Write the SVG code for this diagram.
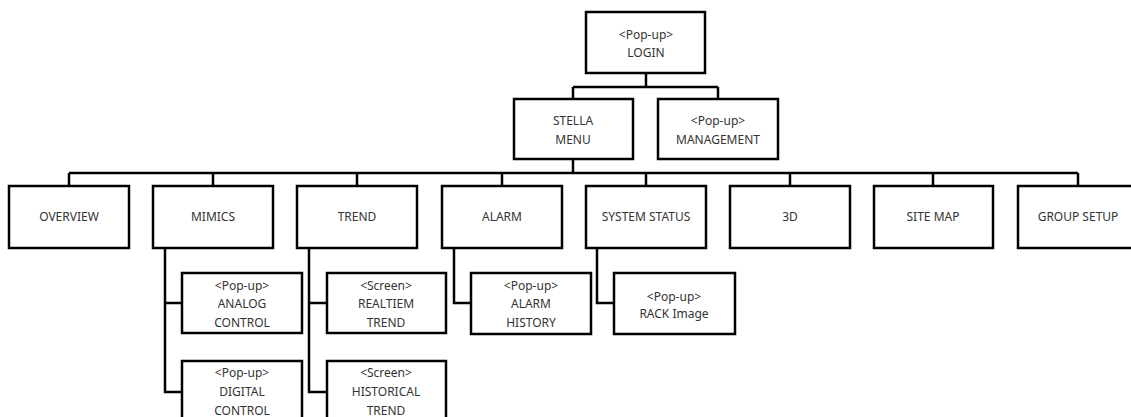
<svg xmlns="http://www.w3.org/2000/svg" width="1131" height="417" viewBox="0 0 1131 417">
<style>
.box{fill:#fff;stroke:#000;stroke-width:2.5}
.lbl{font-family:"Noto Sans","Open Sans",sans-serif;font-size:12px;fill:#333;text-anchor:middle}
.conn{fill:none;stroke:#000;stroke-width:2.5}
</style>
<rect width="1131" height="417" fill="#fff"/>
<g id="connectors" class="conn">
<path d="M646 73V87M573 87H718M573 87V99M718 87V99"/>
<path d="M573 159V173M69 173H1078M69 173V186M213 173V186M357 173V186M502 173V186M646 173V186M790 173V186M933 173V186M1078 173V186"/>
<path d="M165 248V392H182M165 303H182"/>
<path d="M309 248V392H327M309 303H327"/>
<path d="M454 248V303H471"/>
<path d="M597 248V303H614"/>
</g>
<g id="login"><rect class="box" x="586" y="12" width="119" height="61"/><text class="lbl" x="646" y="39">&lt;Pop-up&gt;</text><text class="lbl" x="646" y="57">LOGIN</text></g>
<g id="stella"><rect class="box" x="514" y="99" width="119" height="60"/><text class="lbl" x="573" y="125">STELLA</text><text class="lbl" x="573" y="144">MENU</text></g>
<g id="management"><rect class="box" x="658" y="99" width="120" height="60"/><text class="lbl" x="718" y="125">&lt;Pop-up&gt;</text><text class="lbl" x="718" y="144">MANAGEMENT</text></g>
<g id="overview"><rect class="box" x="9" y="186" width="120" height="62"/><text class="lbl" x="69" y="221">OVERVIEW</text></g>
<g id="mimics"><rect class="box" x="153" y="186" width="120" height="62"/><text class="lbl" x="213" y="221">MIMICS</text></g>
<g id="trend"><rect class="box" x="297" y="186" width="120" height="62"/><text class="lbl" x="357" y="221">TREND</text></g>
<g id="alarm"><rect class="box" x="442" y="186" width="120" height="62"/><text class="lbl" x="502" y="221">ALARM</text></g>
<g id="system-status"><rect class="box" x="586" y="186" width="120" height="62"/><text class="lbl" x="646" y="221">SYSTEM STATUS</text></g>
<g id="three-d"><rect class="box" x="730" y="186" width="120" height="62"/><text class="lbl" x="790" y="221">3D</text></g>
<g id="site-map"><rect class="box" x="874" y="186" width="119" height="62"/><text class="lbl" x="933" y="221">SITE MAP</text></g>
<g id="group-setup"><rect class="box" x="1018" y="186" width="120" height="62"/><text class="lbl" x="1078" y="221">GROUP SETUP</text></g>
<g id="analog-control"><rect class="box" x="182" y="273" width="120" height="60"/><text class="lbl" x="242" y="290">&lt;Pop-up&gt;</text><text class="lbl" x="242" y="308">ANALOG</text><text class="lbl" x="242" y="327">CONTROL</text></g>
<g id="digital-control"><rect class="box" x="182" y="361" width="120" height="62"/><text class="lbl" x="242" y="377">&lt;Pop-up&gt;</text><text class="lbl" x="242" y="396">DIGITAL</text><text class="lbl" x="242" y="415">CONTROL</text></g>
<g id="realtime-trend"><rect class="box" x="327" y="273" width="119" height="60"/><text class="lbl" x="386" y="290">&lt;Screen&gt;</text><text class="lbl" x="386" y="308">REALTIEM</text><text class="lbl" x="386" y="327">TREND</text></g>
<g id="historical-trend"><rect class="box" x="327" y="361" width="119" height="62"/><text class="lbl" x="386" y="377">&lt;Screen&gt;</text><text class="lbl" x="386" y="396">HISTORICAL</text><text class="lbl" x="386" y="415">TREND</text></g>
<g id="alarm-history"><rect class="box" x="471" y="273" width="120" height="61"/><text class="lbl" x="531" y="290">&lt;Pop-up&gt;</text><text class="lbl" x="531" y="308">ALARM</text><text class="lbl" x="531" y="327">HISTORY</text></g>
<g id="rack-image"><rect class="box" x="614" y="273" width="121" height="61"/><text class="lbl" x="674" y="301">&lt;Pop-up&gt;</text><text class="lbl" x="674" y="318">RACK Image</text></g>
</svg>
